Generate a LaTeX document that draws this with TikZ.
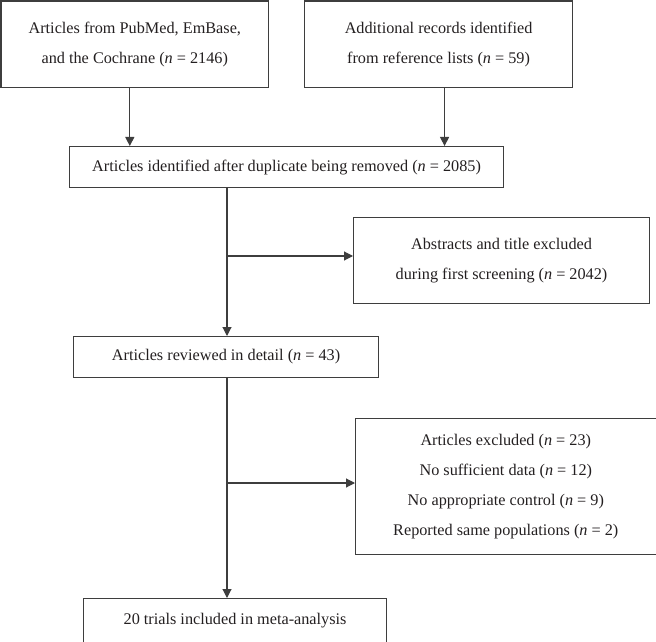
\documentclass[tikz,border=0pt]{standalone}
\usepackage{fontspec}
\setmainfont{Liberation Serif}
\usetikzlibrary{arrows.meta}
\definecolor{edgegray}{RGB}{62,62,62}
\definecolor{txtgray}{RGB}{35,31,32}
\tikzset{
  box/.style={draw=edgegray, line width=1.1bp, align=center, inner sep=0pt,
    anchor=north west, text=txtgray, font=\fontsize{16.3}{30}\selectfont},
  link/.style={draw=edgegray, line width=1.1bp},
  arr/.style={link, -{Triangle[length=9bp,width=9bp]}}
}
\newcommand{\nn}{\textit{n}}

\begin{document}
\begin{tikzpicture}[x=1bp,y=-1bp]
    \useasboundingbox (0,0) rectangle (656,642);
    % sources
    \node[box, minimum width=267.5bp, minimum height=86.5bp] (pubmed) at (0.5,0.5)
      {Articles from PubMed, EmBase,\\and the Cochrane (\nn{} = 2146)};
    \node[box, minimum width=268bp, minimum height=86.5bp] (reflist) at (304,0.5)
      {Additional records identified\\from reference lists (\nn{} = 59)};
    \node[box, minimum width=434bp, minimum height=41bp] (dedup) at (69,146)
      {Articles identified after duplicate being removed (\nn{} = 2085)};
    % screening
    \node[box, minimum width=296bp, minimum height=86bp] (screen) at (353,217)
      {Abstracts and title excluded\\during first screening (\nn{} = 2042)};
    \node[box, minimum width=305bp, minimum height=41bp] (detail) at (73,336)
      {Articles reviewed in detail (\nn{} = 43)};
    \node[box, minimum width=300.5bp, minimum height=136bp] (excl) at (355,418)
      {Articles excluded (\nn{} = 23)\\No sufficient data (\nn{} = 12)\\
       No appropriate control (\nn{} = 9)\\Reported same populations (\nn{} = 2)};
    \node[box, minimum width=303bp, minimum height=43.5bp] (incl) at (83,598)
      {20 trials included in meta-analysis};
    % trunk forks
    \coordinate (fork1) at (227,256);
    \coordinate (fork2) at (227,483);
    \draw[arr] ([xshift=-5bp]pubmed.south) -- ([xshift=-5bp]pubmed.south |- dedup.north);
    \draw[arr] ([xshift=6bp]reflist.south) -- ([xshift=6bp]reflist.south |- dedup.north);
    \draw[arr] (fork1 |- dedup.south) -- (fork1 |- detail.north);
    \draw[arr] (fork1) -- (fork1 -| screen.west);
    \draw[arr] (fork2 |- detail.south) -- (fork2 |- incl.north);
    \draw[arr] (fork2) -- (fork2 -| excl.west);
\end{tikzpicture}
\end{document}
